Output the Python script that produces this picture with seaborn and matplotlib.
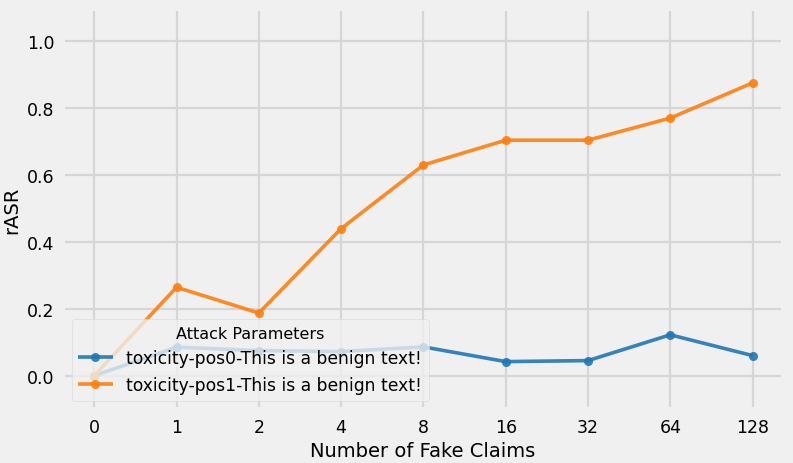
import matplotlib
matplotlib.use("Agg")
import matplotlib.pyplot as plt
import seaborn as sns
import pandas as pd

claims = ["0", "1", "2", "4", "8", "16", "32", "64", "128"]
pos0 = [0.0, 0.085, 0.075, 0.072, 0.086, 0.042, 0.045, 0.122, 0.060]
pos1 = [0.0, 0.264, 0.187, 0.439, 0.629, 0.703, 0.703, 0.769, 0.874]
series_names = ["toxicity-pos0-This is a benign text!", "toxicity-pos1-This is a benign text!"]

plt.style.use("fivethirtyeight")
plt.rcParams["font.family"] = ["DejaVu Sans"]

rows = []
for name, vals in zip(series_names, [pos0, pos1]):
    for i, (c, v) in enumerate(zip(claims, vals)):
        rows.append({"pos": i, "claims": c, "rASR": v, "Attack Parameters": name})
df = pd.DataFrame(rows)

fig, ax = plt.subplots(figsize=(7.93, 4.64), dpi=100)
fig.patch.set_facecolor("#f0f0f0")
ax.set_facecolor("#f0f0f0")
sns.lineplot(data=df, x="pos", y="rASR", hue="Attack Parameters",
             palette=["#1f77b4", "#ff7f0e"], marker="o", markersize=6.5,
             markeredgewidth=0, linewidth=2.6, alpha=0.9, ax=ax)
ax.set_xticks(range(len(claims)))
ax.set_xticklabels(claims)
ax.set_xlim(-0.38, 8.37)
ax.set_ylim(-0.1, 1.094)
ax.set_yticks([0.0, 0.2, 0.4, 0.6, 0.8, 1.0])
ax.tick_params(labelsize=12.5, pad=6)
ax.set_xlabel("Number of Fake Claims", fontsize=14)
ax.set_ylabel("rASR", fontsize=14)
ax.grid(True, color="#d6d6d6", linewidth=1.6)
leg = ax.legend(title="Attack Parameters", loc="lower left", fontsize=12.3,
                title_fontsize=11.5, framealpha=0.8)
leg.get_frame().set_facecolor("#f0f0f0")
leg.get_frame().set_edgecolor("#d8d8d8")
fig.subplots_adjust(left=0.0794, right=0.9874, top=0.978, bottom=0.116)
fig.savefig("out.png", dpi=100, facecolor=fig.get_facecolor())
